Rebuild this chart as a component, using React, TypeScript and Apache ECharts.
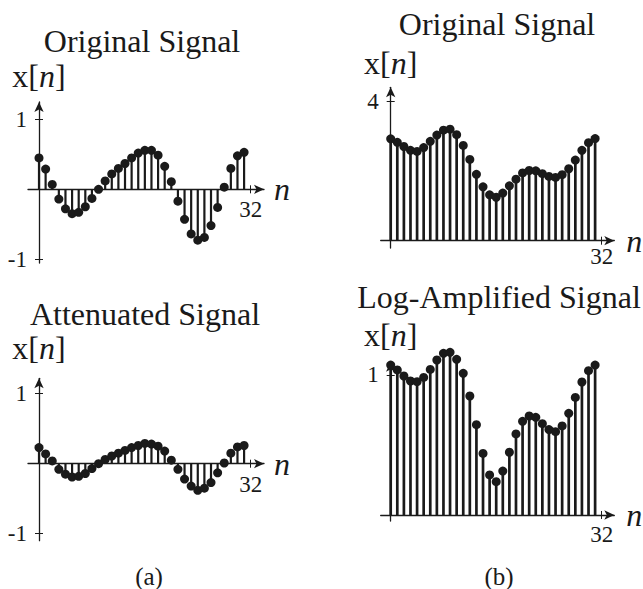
import React, { useEffect, useRef } from "react";
import * as echarts from "echarts";

// ---- data ----
const sampleIndex = [0, 1, 2, 3, 4, 5, 6, 7, 8, 9, 10, 11, 12, 13, 14, 15, 16, 17, 18, 19, 20, 21, 22, 23, 24, 25, 26, 27, 28, 29, 30, 31];

const originalA = [0.45, 0.29, 0.07, -0.14, -0.28, -0.35, -0.33, -0.25, -0.13, 0.0, 0.12, 0.22, 0.3, 0.37, 0.45, 0.52, 0.56, 0.56, 0.49, 0.33, 0.11, -0.17, -0.43, -0.64, -0.73, -0.69, -0.52, -0.26, 0.03, 0.3, 0.48, 0.53];
const attenuatedA = [0.23, 0.14, 0.04, -0.08, -0.15, -0.19, -0.18, -0.14, -0.07, 0.0, 0.06, 0.11, 0.15, 0.19, 0.23, 0.26, 0.29, 0.28, 0.25, 0.18, 0.05, -0.08, -0.22, -0.32, -0.38, -0.35, -0.27, -0.13, 0.01, 0.15, 0.24, 0.26];
const originalB = [2.93, 2.83, 2.71, 2.6, 2.57, 2.68, 2.86, 3.04, 3.18, 3.21, 3.05, 2.74, 2.34, 1.91, 1.55, 1.32, 1.25, 1.37, 1.58, 1.77, 1.95, 2.02, 2.01, 1.93, 1.85, 1.82, 1.9, 2.07, 2.32, 2.6, 2.82, 2.94];
const logAmplifiedB = [1.071, 1.036, 0.993, 0.957, 0.952, 0.983, 1.04, 1.107, 1.155, 1.162, 1.112, 1.012, 0.85, 0.645, 0.44, 0.286, 0.238, 0.314, 0.448, 0.579, 0.669, 0.707, 0.698, 0.652, 0.61, 0.595, 0.636, 0.726, 0.84, 0.95, 1.031, 1.071];

const yTicksA = [-1, 1];
const yTicksOriginalB = [4];
const yTicksLogB = [1];
const xTicks = [32];

const titles = ["Original Signal", "Attenuated Signal", "Original Signal", "Log-Amplified Signal"];
const panelLabels = ["(a)", "(b)"];

// ---- styling ----
const FONT = '"Liberation Serif", "Times New Roman", serif';
const INK = "#1a1a1a";

type PanelLayout = {
  grid: { left: number; top: number; width: number; height: number };
  xMin: number;
  xMax: number;
  yMin: number;
  yMax: number;
  yTicks: number[];
  values: number[];
  stemWidth: number;
  dotSize: number;
  yNameGap: number;
  xNameGap: number;
  xLabelMargin: number;
};

const panels: PanelLayout[] = [
  {
    grid: { left: 28, top: 102, width: 236, height: 161 },
    xMin: -1.663, xMax: 34.01, yMin: -1.057, yMax: 1.2525,
    yTicks: yTicksA, values: originalA, stemWidth: 2.2, dotSize: 9,
    yNameGap: 11, xNameGap: 10, xLabelMargin: 9,
  },
  {
    grid: { left: 28, top: 378.3, width: 236, height: 162.4 },
    xMin: -1.663, xMax: 34.01, yMin: -1.1, yMax: 1.22,
    yTicks: yTicksA, values: attenuatedA, stemWidth: 2.2, dotSize: 9,
    yNameGap: 15, xNameGap: 10, xLabelMargin: 9,
  },
  {
    grid: { left: 380.7, top: 87.3, width: 233.6, height: 160.7 },
    xMin: -1.517, xMax: 33.91, yMin: -0.21, yMax: 4.414,
    yTicks: yTicksOriginalB, values: originalB, stemWidth: 2.7, dotSize: 9,
    yNameGap: 9, xNameGap: 12, xLabelMargin: 4.5,
  },
  {
    grid: { left: 380.7, top: 361.7, width: 233.6, height: 159.3 },
    xMin: -1.517, xMax: 33.91, yMin: -0.043, yMax: 1.095,
    yTicks: yTicksLogB, values: logAmplifiedB, stemWidth: 2.7, dotSize: 9,
    yNameGap: 12, xNameGap: 12, xLabelMargin: 8,
  },
];

const titlePos = [
  { x: 142, y: 41 },
  { x: 145, y: 314 },
  { x: 497, y: 24 },
  { x: 499, y: 297 },
];
const labelPos = [
  { x: 149, y: 576 },
  { x: 499, y: 576 },
];

function buildOption() {
  const grid: any[] = [];
  const xAxis: any[] = [];
  const yAxis: any[] = [];
  const series: any[] = [];
  const axisLineStyle = { color: INK, width: 1.3 };

  panels.forEach((p, i) => {
    grid.push({ ...p.grid, containLabel: false, outerBoundsMode: "none" });

    // place each axis at the other axis's zero through the axis scale
    const xAxisOffset = -((0 - p.yMin) / (p.yMax - p.yMin)) * p.grid.height;
    const yAxisOffset = -((0 - p.xMin) / (p.xMax - p.xMin)) * p.grid.width;

    xAxis.push({
      gridIndex: i, type: "value", position: "bottom", offset: xAxisOffset, min: p.xMin, max: p.xMax,
      axisLine: { show: true, onZero: false, lineStyle: axisLineStyle, symbol: ["none", "arrow"], symbolSize: [7, 10] },
      axisTick: { show: true, customValues: xTicks, length: 4, lineStyle: { color: INK, width: 1 } },
      axisLabel: { show: true, customValues: xTicks, margin: p.xLabelMargin, fontSize: 23, fontFamily: FONT, color: INK },
      splitLine: { show: false },
      name: "n", nameLocation: "end", nameGap: p.xNameGap,
      nameTextStyle: { fontFamily: FONT, fontStyle: "italic", fontSize: 32, color: INK, verticalAlign: "middle", padding: [6, 0, 0, 0] },
    });
    xAxis.push({
      gridIndex: i, type: "value", position: "bottom", offset: xAxisOffset, min: p.xMin, max: p.xMax,
      axisLine: { show: false, onZero: false },
      axisTick: { show: true, inside: true, customValues: xTicks, length: 4, lineStyle: { color: INK, width: 1 } },
      axisLabel: { show: false }, splitLine: { show: false },
    });

    yAxis.push({
      gridIndex: i, type: "value", position: "left", offset: yAxisOffset, min: p.yMin, max: p.yMax,
      axisLine: { show: true, onZero: false, lineStyle: axisLineStyle, symbol: ["none", "arrow"], symbolSize: [7, 10] },
      axisTick: { show: true, customValues: p.yTicks, length: 4, lineStyle: { color: INK, width: 1 } },
      axisLabel: { show: true, customValues: p.yTicks, margin: 12, fontSize: 23, fontFamily: FONT, color: INK },
      splitLine: { show: false },
      name: "{r|x[}{i|n}{r|]}", nameLocation: "end", nameGap: p.yNameGap,
      nameTextStyle: {
        align: "center", verticalAlign: "bottom",
        rich: {
          r: { fontFamily: FONT, fontSize: 32, lineHeight: 30, color: INK },
          i: { fontFamily: FONT, fontSize: 32, lineHeight: 30, fontStyle: "italic", color: INK },
        },
      },
    });
    yAxis.push({
      gridIndex: i, type: "value", position: "left", offset: yAxisOffset, min: p.yMin, max: p.yMax,
      axisLine: { show: false, onZero: false },
      axisTick: { show: true, inside: true, customValues: p.yTicks, length: 4, lineStyle: { color: INK, width: 1 } },
      axisLabel: { show: false }, splitLine: { show: false },
    });

    const pts = sampleIndex.map((n, k) => [n, p.values[k]]);
    series.push({
      type: "bar", xAxisIndex: i * 2, yAxisIndex: i * 2, data: pts, clip: false,
      barWidth: p.stemWidth, itemStyle: { color: INK }, z: 2, silent: true,
    });
    series.push({
      type: "scatter", xAxisIndex: i * 2, yAxisIndex: i * 2, data: pts, clip: false,
      symbol: "circle", symbolSize: p.dotSize, itemStyle: { color: INK, opacity: 1 }, z: 3, silent: true,
    });
  });

  const graphic: any[] = [];
  titles.forEach((t, i) => {
    graphic.push({
      type: "text", x: titlePos[i].x, y: titlePos[i].y,
      style: { text: t, fill: INK, fontFamily: FONT, fontSize: 32, lineHeight: 30, align: "center", verticalAlign: "middle", textAlign: "center", textVerticalAlign: "middle" },
    });
  });
  panelLabels.forEach((t, i) => {
    graphic.push({
      type: "text", x: labelPos[i].x, y: labelPos[i].y,
      style: { text: t, fill: INK, fontFamily: FONT, fontSize: 25, lineHeight: 24, align: "center", verticalAlign: "middle", textAlign: "center", textVerticalAlign: "middle" },
    });
  });

  return {
    animation: false,
    backgroundColor: "#ffffff",
    textStyle: { fontFamily: FONT },
    grid, xAxis, yAxis, series, graphic,
  };
}

export default function App() {
  const ref = useRef<HTMLDivElement>(null);
  useEffect(() => {
    document.body.style.margin = "0";
    if (!ref.current) return;
    const chart = echarts.init(ref.current, undefined, { renderer: "svg" });
    chart.setOption(buildOption() as any);
    return () => chart.dispose();
  }, []);
  return <div ref={ref} style={{ width: 643, height: 589 }} />;
}
